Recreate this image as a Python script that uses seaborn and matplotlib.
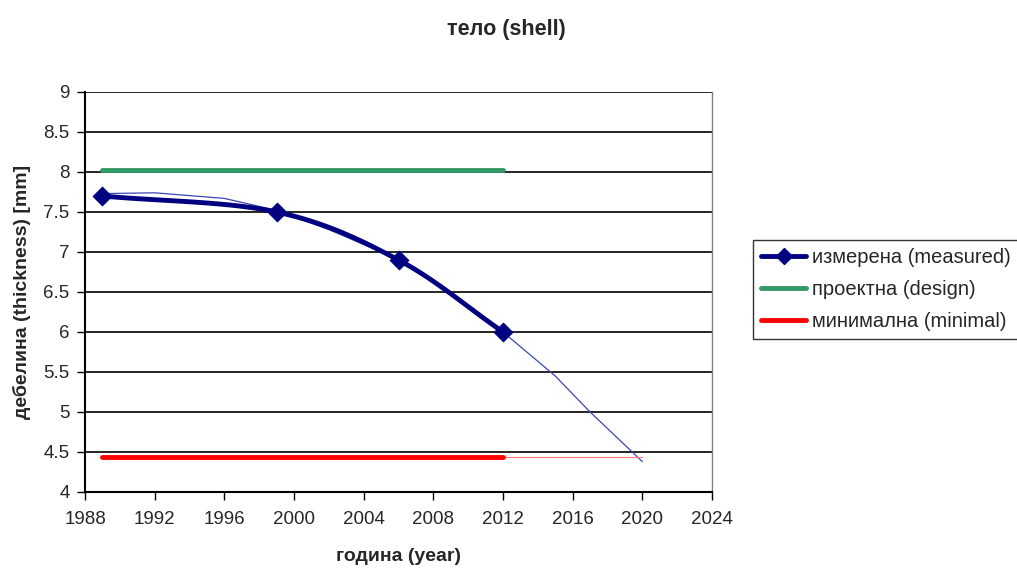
import numpy as np
import pandas as pd
import matplotlib
matplotlib.use("Agg")
import matplotlib.pyplot as plt
import seaborn as sns

# data
years = [1989, 1999, 2006, 2012]
measured = [7.7, 7.5, 6.9, 6.0]
design_years = [1989, 2012]
design = [8.02, 8.02]
minimal_years = [1989, 2012]
minimal = [4.44, 4.44]
minimal_ext_years = [2012, 2020]
minimal_ext = [4.44, 4.44]
trend_years = [1989, 1992, 1996, 1999, 2002, 2005, 2008, 2012, 2015, 2017, 2020]
trend_vals = [7.73, 7.74, 7.67, 7.52, 7.28, 7.0, 6.65, 6.0, 5.45, 5.0, 4.38]

sns.set_style("white")
plt.rcParams['font.family'] = ['Liberation Sans', 'DejaVu Sans']

fig = plt.figure(figsize=(10.17, 5.68), dpi=100)
ax = fig.add_axes([85/1017, 1-492/568, (712-85)/1017, 400/568])


def smooth(xs, ys, n=30):
    # Excel-style smoothed path through the points (Catmull-Rom)
    x = np.asarray(xs, float); y = np.asarray(ys, float)
    px = np.concatenate([[2*x[0]-x[1]], x, [2*x[-1]-x[-2]]])
    py = np.concatenate([[2*y[0]-y[1]], y, [2*y[-1]-y[-2]]])
    ox, oy = [], []
    for i in range(1, len(px)-2):
        t = np.linspace(0, 1, n)
        for P, out in ((px, ox), (py, oy)):
            p0, p1, p2, p3 = P[i-1], P[i], P[i+1], P[i+2]
            out.extend(0.5*((2*p1) + (-p0+p2)*t + (2*p0-5*p1+4*p2-p3)*t**2 + (-p0+3*p1-3*p2+p3)*t**3))
    return ox, oy

for yv in np.arange(4.5, 9.01, 0.5):
    ax.axhline(yv, color="black", lw=1.2, zorder=0)

sns.lineplot(x=trend_years, y=trend_vals, ax=ax, color="#3c46b4", lw=0.9, zorder=2)
sns.lineplot(x=minimal_ext_years, y=minimal_ext, ax=ax, color="#ff8080", lw=0.9, zorder=2)
sns.lineplot(x=design_years, y=design, ax=ax, color="#339966", lw=3.5, zorder=3)
sns.lineplot(x=minimal_years, y=minimal, ax=ax, color="#ff0000", lw=3.5, zorder=3)
sx, sy = smooth(years, measured)
ax.plot(sx, sy, color="#000080", lw=3.5, zorder=4)
sns.scatterplot(x=years, y=measured, ax=ax, marker="D", s=90, color="#000080", edgecolor="#000080", zorder=5)

ax.set_xlim(1988, 2024)
ax.set_ylim(4, 9)
ax.set_xticks(range(1988, 2025, 4))
ax.set_yticks(np.arange(4, 9.01, 0.5))
ax.set_yticklabels(["4", "4.5", "5", "5.5", "6", "6.5", "7", "7.5", "8", "8.5", "9"])
ax.tick_params(axis="both", labelsize=13.5, direction="out", length=6, width=1, color="black", left=True, bottom=True)
ax.tick_params(axis="x", pad=8)
ax.tick_params(axis="y", pad=5)
for s in ["left", "bottom"]:
    ax.spines[s].set_color("black"); ax.spines[s].set_linewidth(1.5)
ax.spines["top"].set_visible(False)
ax.spines["right"].set_color("#808080"); ax.spines["right"].set_linewidth(1)

ax.set_xlabel("година (year)", fontsize=14, fontweight="bold", labelpad=14)
ax.set_ylabel("дебелина (thickness) [mm]", fontsize=14, fontweight="bold", labelpad=9)
fig.text(0.498, 1-30/568, "тело (shell)", ha="center", va="center", fontsize=15.5, fontweight="bold")

from matplotlib.lines import Line2D
handles = [
    Line2D([], [], color="#000080", lw=3.5, marker="D", markersize=8),
    Line2D([], [], color="#339966", lw=3.5),
    Line2D([], [], color="#ff0000", lw=3.5),
]
labels = ["измерена (measured)", "проектна (design)", "минимална (minimal)"]
leg = fig.legend(handles, labels, loc="upper left", bbox_to_anchor=(753/1017, 1-240/568),
                 fontsize=14.5, frameon=True, fancybox=False, edgecolor="black",
                 handlelength=2.25, handletextpad=0.3, borderpad=0.4, labelspacing=0.65,
                 borderaxespad=0)
leg.get_frame().set_linewidth(1)

fig.savefig("out.png", dpi=100)
